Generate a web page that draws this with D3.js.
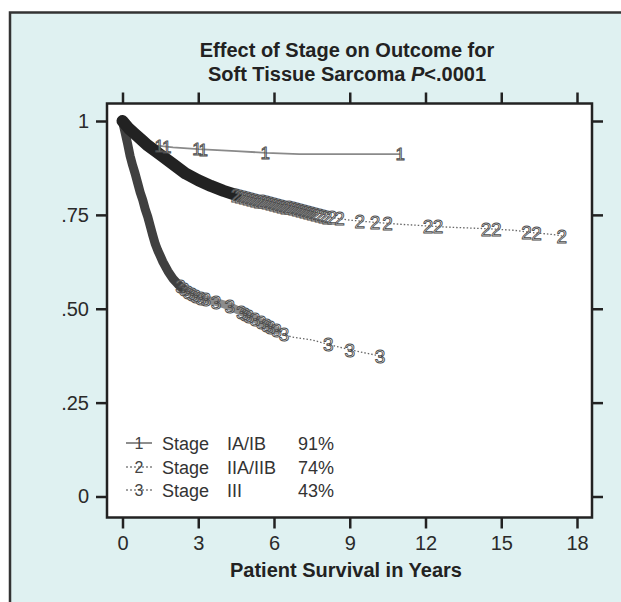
<!DOCTYPE html>
<html><head><meta charset="utf-8">
<script src="https://cdn.jsdelivr.net/npm/d3@7/dist/d3.min.js"></script>
<style>body{margin:0;background:#fff;} svg{display:block;}</style>
</head><body>
<svg id="chart" width="621" height="602"></svg>
<script>
// ---- data ----
const titleLine1 = "Effect of Stage on Outcome for";
const titleLine2a = "Soft Tissue Sarcoma ";
const titleLine2b = "P";
const titleLine2c = "<.0001";
const xTitle = "Patient Survival in Years";
const xTicks = [0, 3, 6, 9, 12, 15, 18];
const yTicks = [0, 0.25, 0.5, 0.75, 1];
const yTickLabels = ["0", ".25", ".50", ".75", "1"];

// Kaplan-Meier curves: [years, survival]
const stage1Curve = [[0,1],[0.2,0.985],[0.4,0.97],[0.6,0.957],[0.8,0.947],[1.0,0.94],[1.3,0.935],[2.0,0.93],[3.0,0.925],[4.5,0.92],[5.7,0.915],[7,0.912],[11,0.912]];
const stage2Curve = [[0,1],[0.25,0.98],[0.5,0.965],[0.75,0.95],[1,0.935],[1.5,0.91],[2,0.885],[2.5,0.86],[3,0.842],[3.5,0.827],[4,0.814],[4.5,0.803],[5,0.794],[5.5,0.786],[6,0.779],[6.5,0.771],[7,0.763],[7.5,0.754],[8,0.746],[8.5,0.741],[9,0.736],[10,0.73],[11,0.725],[12.2,0.72],[13,0.717],[14.5,0.713],[15.5,0.709],[16.2,0.703],[17,0.698],[17.4,0.694]];
const stage3Curve = [[0,1],[0.1,0.97],[0.2,0.94],[0.3,0.907],[0.4,0.882],[0.5,0.86],[0.6,0.835],[0.7,0.81],[0.8,0.79],[0.9,0.765],[1.0,0.745],[1.1,0.72],[1.2,0.695],[1.3,0.672],[1.4,0.655],[1.5,0.64],[1.6,0.625],[1.8,0.6],[2.0,0.58],[2.2,0.565],[2.4,0.553],[2.6,0.545],[2.8,0.537],[3.0,0.531],[3.3,0.525],[3.7,0.518],[4.0,0.512],[4.3,0.505],[4.6,0.495],[4.9,0.485],[5.2,0.474],[5.5,0.463],[5.8,0.452],[6.1,0.442],[6.4,0.432],[6.7,0.425],[7.5,0.417],[8.15,0.405],[9.0,0.391],[10.2,0.374]];

// censoring marks (years)
const stage1Censor = [1.45, 1.75, 2.95, 3.2, 5.65, 11.0];
const stage2Censor = [4.5,4.65,4.8,4.95,5.1,5.25,5.4,5.55,5.7,5.85,6.0,6.15,6.3,6.45,6.6,6.75,6.9,7.05,7.2,7.35,7.5,7.65,7.8,7.95,8.1,8.3,8.6,9.4,10.0,10.5,12.1,12.5,14.4,14.8,16.0,16.4,17.4];
const stage3Censor = [2.3,2.45,2.6,2.75,2.9,3.1,3.3,3.7,4.25,4.7,4.85,5.0,5.25,5.5,5.7,5.85,6.1,6.4,8.15,9.0,10.2];
// stretches of heavily overlapping marks, years [start, end]
const stage2Dense = [0, 4.6];
const stage2Busy = [4.4, 7.6];
const stage3Dense = [0, 2.5];
const stage3Busy = [2.4, 6.1];

const legendSymbols = ["1", "2", "3"];
const legendWords = ["Stage", "Stage", "Stage"];
const legendGroups = ["IA/IB", "IIA/IIB", "III"];
const legendPct = ["91%", "74%", "43%"];

// ---- drawing ----
const svg = d3.select("#chart");
const FONT = "'Liberation Sans', Arial, Helvetica, sans-serif";
const bg = "#dff1f1";
const ink = "#222";

svg.append("rect").attr("x", 10).attr("y", 12.5).attr("width", 700).attr("height", 700)
  .attr("fill", bg).attr("stroke", "#333").attr("stroke-width", 2.5);

const plot = {l: 107, t: 103.5, r: 592, b: 517.5};
const x = d3.scaleLinear().domain([0, 18]).range([122.5, 577]);
const y = d3.scaleLinear().domain([0, 1]).range([496.5, 121]);

svg.append("rect").attr("x", plot.l).attr("y", plot.t)
  .attr("width", plot.r - plot.l).attr("height", plot.b - plot.t)
  .attr("fill", "#fff");

// title
const title = svg.append("text").attr("font-family", FONT).attr("font-weight", "bold")
  .attr("font-size", 20).attr("fill", ink).attr("text-anchor", "middle");
title.append("tspan").attr("x", 347).attr("y", 57).text(titleLine1);
const t2 = title.append("tspan").attr("x", 347).attr("y", 81);
t2.append("tspan").text(titleLine2a);
t2.append("tspan").attr("font-style", "italic").text(titleLine2b);
t2.append("tspan").text(titleLine2c);

// axes
function styleAxis(g) {
  g.select(".domain").remove();
  g.selectAll(".tick line").attr("stroke", ink).attr("stroke-width", 2.5);
  g.selectAll(".tick text").attr("font-family", FONT).attr("font-size", 20).attr("fill", "#2a2a2a");
}
svg.append("g").attr("transform", `translate(0,${plot.b})`)
  .call(d3.axisBottom(x).tickValues(xTicks).tickSize(11).tickPadding(7).tickFormat(d3.format("d")))
  .call(styleAxis);
svg.append("g").attr("transform", `translate(0,${plot.t})`)
  .call(d3.axisTop(x).tickValues(xTicks).tickSize(11).tickFormat(""))
  .call(styleAxis);
svg.append("g").attr("transform", `translate(${plot.l},0)`)
  .call(d3.axisLeft(y).tickValues(yTicks).tickSize(11).tickPadding(7).tickFormat((d, i) => yTickLabels[i]))
  .call(styleAxis);
svg.append("g").attr("transform", `translate(${plot.r},0)`)
  .call(d3.axisRight(y).tickValues(yTicks).tickSize(11).tickFormat(""))
  .call(styleAxis);

// plot frame
svg.append("rect").attr("x", plot.l).attr("y", plot.t)
  .attr("width", plot.r - plot.l).attr("height", plot.b - plot.t)
  .attr("fill", "none").attr("stroke", ink).attr("stroke-width", 2.5);

// x title
svg.append("text").attr("x", 346).attr("y", 577).attr("text-anchor", "middle")
  .attr("font-family", FONT).attr("font-weight", "bold").attr("font-size", 20).attr("fill", ink)
  .text(xTitle);

// curves
const line = d3.line().x(d => x(d[0])).y(d => y(d[1]));
const g = svg.append("g");
function survScale(curve) {
  return d3.scaleLinear().domain(curve.map(d => d[0])).range(curve.map(d => d[1])).clamp(true);
}
function segment(curve, range) {
  return curve.filter(d => d[0] >= range[0] && d[0] <= range[1]);
}

// stage 1
g.append("path").attr("d", line(stage1Curve)).attr("fill", "none")
  .attr("stroke", "#8a8a8a").attr("stroke-width", 1.8);
// stage 2, 3 dotted tails
g.append("path").attr("d", line(stage2Curve)).attr("fill", "none")
  .attr("stroke", "#666").attr("stroke-width", 1.3).attr("stroke-dasharray", "1.5,2");
g.append("path").attr("d", line(stage3Curve)).attr("fill", "none")
  .attr("stroke", "#666").attr("stroke-width", 1.3).attr("stroke-dasharray", "1.5,2");

// busy (grey) stretches under marks
g.append("path").attr("d", line(segment(stage3Curve, stage3Busy)))
  .attr("fill", "none").attr("stroke", "#8c8c8c").attr("stroke-width", 8)
  .attr("stroke-linecap", "round").attr("stroke-linejoin", "round");
g.append("path").attr("d", line(segment(stage2Curve, stage2Busy)))
  .attr("fill", "none").attr("stroke", "#7a7a7a").attr("stroke-width", 9)
  .attr("stroke-linecap", "round").attr("stroke-linejoin", "round");

// dense bands
g.append("path").attr("d", line(segment(stage3Curve, stage3Dense)))
  .attr("fill", "none").attr("stroke", "#404040").attr("stroke-width", 9)
  .attr("stroke-linecap", "round").attr("stroke-linejoin", "round");
g.append("path").attr("d", line(segment(stage2Curve, stage2Dense)))
  .attr("fill", "none").attr("stroke", "#222").attr("stroke-width", 12)
  .attr("stroke-linecap", "round").attr("stroke-linejoin", "round");

function marks(times, curve, sym, size) {
  const s = survScale(curve);
  g.selectAll(null).data(times).enter().append("text")
    .attr("x", d => x(d)).attr("y", d => y(s(d)))
    .attr("dy", "0.36em").attr("text-anchor", "middle")
    .attr("font-family", FONT).attr("font-size", size)
    .attr("fill", "#fff").attr("fill-opacity", 0.5)
    .attr("stroke", "#4a4a4a").attr("stroke-width", 0.9)
    .text(sym);
}
marks(stage3Censor, stage3Curve, "3", 19);
marks(stage2Censor, stage2Curve, "2", 19);
marks(stage1Censor, stage1Curve, "1", 17);

// legend
const legY = [443, 467, 490];
const leg = svg.append("g");
legY.forEach((ly, i) => {
  leg.append("line").attr("x1", 126).attr("x2", 152).attr("y1", ly).attr("y2", ly)
    .attr("stroke", "#444").attr("stroke-width", 1.2)
    .attr("stroke-dasharray", i === 0 ? null : "2,2");
  leg.append("text").attr("x", 139).attr("y", ly).attr("dy", "0.36em").attr("text-anchor", "middle")
    .attr("font-family", FONT).attr("font-size", 16).attr("fill", "#444")
    .text(legendSymbols[i]);
  const txt = (xx, s) => leg.append("text").attr("x", xx).attr("y", ly + 6.5)
    .attr("font-family", FONT).attr("font-size", 18).attr("fill", "#333").text(s);
  txt(162, legendWords[i]);
  txt(227, legendGroups[i]);
  txt(298, legendPct[i]);
});
</script>
</body></html>
